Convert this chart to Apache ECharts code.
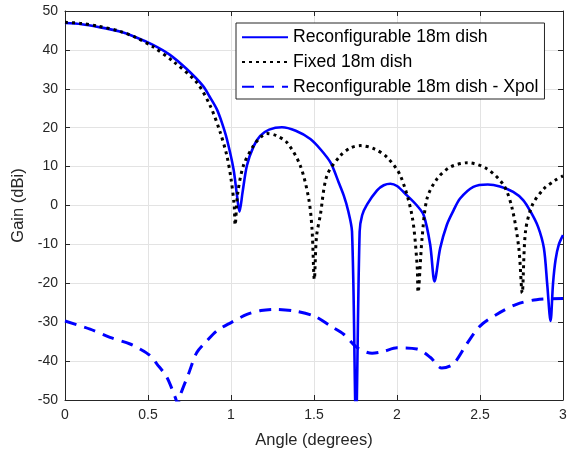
<!DOCTYPE html>
<html>
<head>
<meta charset="utf-8">
<script src="https://cdn.jsdelivr.net/npm/echarts@6/dist/echarts.min.js"></script>
<style>
html,body{margin:0;padding:0;background:#fff;}
#chart{width:574px;height:454px;}
</style>
</head>
<body>
<div id="chart"></div>
<script>
// ---- Data ----
var xTicks = [0, 0.5, 1, 1.5, 2, 2.5, 3];
var yTicks = [-50, -40, -30, -20, -10, 0, 10, 20, 30, 40, 50];

var seriesNames = ['Reconfigurable 18m dish', 'Fixed 18m dish', 'Reconfigurable 18m dish - Xpol'];

var reconfAngle = [0,0.1,0.2,0.33,0.43,0.53,0.63,0.73,0.83,0.875,0.915,0.945,0.975,1.015,1.036,1.051,1.07,1.096,1.136,1.176,1.23,1.307,1.39,1.478,1.54,1.6,1.65,1.679,1.705,1.729,1.748,1.753,1.758,1.775,1.79,1.82,1.88,1.92,1.96,2.0,2.06,2.12,2.161,2.2,2.226,2.26,2.3,2.34,2.38,2.46,2.547,2.62,2.7,2.76,2.805,2.85,2.885,2.905,2.925,2.94,2.955,2.975,3.0];
var reconfGain  = [46.9,46.6,45.9,44.7,43.2,41.3,38.8,35.2,30.8,27.7,24.7,21.3,17.1,9.4,2.6,-1.6,3.5,10.3,15.2,17.9,19.5,20.1,19.2,17.1,14.4,11,5.8,2.6,-1.2,-6.7,-50,-60,-50,-6.7,-2.5,0.3,3.9,5.2,5.6,5.0,2.6,0.0,-2.5,-10.1,-19.5,-11,-5,-1.3,1.8,4.8,5.4,4.9,3.5,1.4,-1.6,-5.5,-11,-20.3,-29.7,-20,-14,-10,-7.6];

var fixedAngle = [0,0.1,0.2,0.33,0.43,0.53,0.653,0.794,0.875,0.935,0.975,1.0,1.019,1.025,1.04,1.075,1.136,1.18,1.216,1.27,1.337,1.417,1.468,1.488,1.502,1.515,1.538,1.578,1.659,1.72,1.78,1.86,1.94,2.02,2.09,2.121,2.127,2.151,2.181,2.242,2.322,2.426,2.543,2.643,2.694,2.734,2.754,2.774,2.815,2.885,2.95,3.0];
var fixedGain  = [47.1,46.8,46.1,44.8,43.1,40.8,37.0,31.6,25.6,18.8,12.8,6.9,0.1,-5,3,10.3,15.4,17.6,18.5,18.0,16.2,10.3,1.8,-6,-19,-8,-2.5,7.7,12.8,14.8,15.4,14.6,12.4,7.7,-2.5,-15.2,-22.3,-8.4,1.8,6.9,9.9,11,9.4,5.2,-0.8,-11,-22.5,-6.7,0.1,4.3,6.4,7.6];

var xpolAngle = [0,0.151,0.271,0.392,0.452,0.513,0.553,0.613,0.663,0.68,0.694,0.744,0.794,0.855,0.915,1.0,1.096,1.18,1.257,1.377,1.5,1.6,1.679,1.759,1.85,1.92,2.0,2.12,2.2,2.27,2.34,2.42,2.5,2.6,2.72,2.84,3.0];
var xpolGain  = [-29.7,-31.8,-33.9,-35.6,-36.9,-38.6,-40.7,-44.1,-49.2,-51,-48.8,-43.3,-37.8,-34.8,-32.2,-30.1,-28,-27,-26.7,-27.1,-28.4,-31.0,-33.1,-36.5,-38,-37.5,-36.6,-36.9,-39,-41.8,-40.7,-35.6,-31,-28,-25.4,-24.2,-23.9];

function pairs(xs, ys){ return xs.map(function(x,i){ return [x, ys[i]]; }); }

var FONT = '"Liberation Sans", Arial, Helvetica, sans-serif';
var AXC = '#262626';
var GRIDC = '#e3e3e3';

var chart = echarts.init(document.getElementById('chart'), null, {renderer:'canvas'});

function xAxisCfg(pos, show){
  return {
    type:'value', position:pos, min:xTicks[0], max:xTicks[xTicks.length-1], interval:xTicks[1]-xTicks[0],
    axisLine:{show:true, onZero:false, lineStyle:{color:AXC, width:1}},
    axisTick:{show:true, inside:true, length:5, lineStyle:{color:AXC}},
    axisLabel:{show:show, color:AXC, fontFamily:FONT, fontSize:14, margin:8},
    splitLine:{show:show, lineStyle:{color:GRIDC, width:1}},
    name: show ? 'Angle (degrees)' : '', nameLocation:'middle', nameGap:32,
    nameTextStyle:{color:AXC, fontFamily:FONT, fontSize:16.5}
  };
}
function yAxisCfg(pos, show){
  return {
    type:'value', position:pos, min:yTicks[0], max:yTicks[yTicks.length-1], interval:yTicks[1]-yTicks[0],
    axisLine:{show:true, onZero:false, lineStyle:{color:AXC, width:1}},
    axisTick:{show:true, inside:true, length:5, lineStyle:{color:AXC}},
    axisLabel:{show:show, color:AXC, fontFamily:FONT, fontSize:14, margin:7},
    splitLine:{show:show, lineStyle:{color:GRIDC, width:1}},
    name: show ? 'Gain (dBi)' : '', nameLocation:'middle', nameGap:27, nameRotate:90,
    nameTextStyle:{color:AXC, fontFamily:FONT, fontSize:16.5}
  };
}

chart.setOption({
  animation:false,
  backgroundColor:'#ffffff',
  grid:{left:65, right:11, top:11, bottom:51, containLabel:false},
  xAxis:[xAxisCfg('bottom', true), xAxisCfg('top', false)],
  yAxis:[yAxisCfg('left', true), yAxisCfg('right', false)],
  legend:{
    orient:'vertical', left:236, top:23,
    data:seriesNames,
    itemWidth:46, itemHeight:18, itemGap:6.7,
    padding:[5.3, 6, 3.3, 5],
    backgroundColor:'#ffffff', borderColor:AXC, borderWidth:1, borderRadius:0,
    itemStyle:{opacity:0},
    textStyle:{color:'#000', fontFamily:FONT, fontSize:17.6},
    selectedMode:false
  },
  series:[
    {name:seriesNames[0], type:'line', data:pairs(reconfAngle, reconfGain), symbol:'none', showSymbol:false, clip:true,
     smooth:0.3, lineStyle:{color:'#0000ff', width:2.6, type:'solid'}, itemStyle:{color:'#0000ff'}, z:2},
    {name:seriesNames[1], type:'line', data:pairs(fixedAngle, fixedGain), symbol:'none', showSymbol:false, clip:true,
     smooth:0.3, lineStyle:{color:'#000000', width:3, type:[3,4], cap:'butt'}, itemStyle:{color:'#000000'}, z:3},
    {name:seriesNames[2], type:'line', data:pairs(xpolAngle, xpolGain), symbol:'none', showSymbol:false, clip:true,
     smooth:0.3, lineStyle:{color:'#0000ff', width:3, type:[12,8], cap:'butt'}, itemStyle:{color:'#0000ff'}, z:4}
  ]
});
</script>
</body>
</html>
